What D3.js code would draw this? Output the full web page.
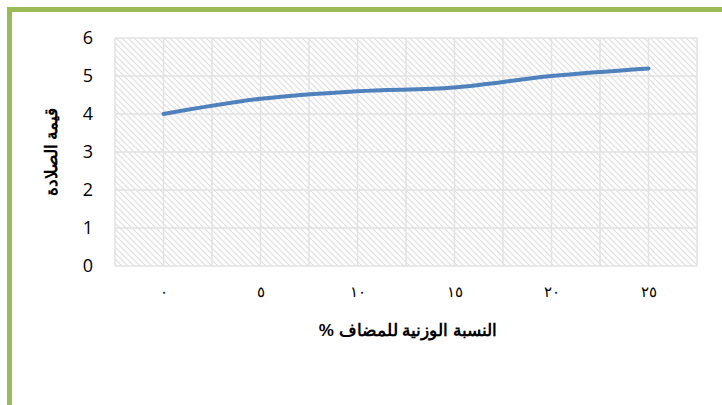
<!DOCTYPE html>
<html>
<head>
<meta charset="utf-8">
<script src="https://cdn.jsdelivr.net/npm/d3@7"></script>
<style>
	body { margin: 0; background: #fff; }
	svg { display: block; }
</style>
</head>
<body>
<svg id="chart" width="722" height="405"></svg>
<script>
const categories = ["٠", "٥", "١٠", "١٥", "٢٠", "٢٥"];
const hardness = [4.0, 4.4, 4.6, 4.7, 5.0, 5.2];
const yTicks = [0, 1, 2, 3, 4, 5, 6];
const xTitle = "النسبة الوزنية للمضاف %";
const yTitle = "قيمة الصلادة";

const svg = d3.select("#chart");
const plot = { left: 115, right: 697, top: 38, bottom: 266 };

// green frame (top and left only visible)
svg.append("rect").attr("x", 9.5).attr("y", 9.5).attr("width", 760).attr("height", 420)
	.attr("fill", "none").attr("stroke", "#9bbb59").attr("stroke-width", 5);

// hatch pattern for plot area
const defs = svg.append("defs");
const pat = defs.append("pattern").attr("id", "hatch").attr("patternUnits", "userSpaceOnUse")
	.attr("width", 6).attr("height", 6);
pat.append("path").attr("d", "M-1,-1 L7,7 M-1,5 L1,7 M5,-1 L7,1")
	.attr("stroke", "#dedede").attr("stroke-width", 1.2);

const x = d3.scaleBand().domain(categories).range([plot.left, plot.right]);
const y = d3.scaleLinear().domain([0, 6]).range([plot.bottom, plot.top]);

svg.append("rect").attr("x", plot.left).attr("y", plot.top)
	.attr("width", plot.right - plot.left).attr("height", plot.bottom - plot.top)
	.attr("fill", "url(#hatch)");

// gridlines
const grid = svg.append("g").attr("stroke", "#e2e2e2").attr("stroke-width", 1.5);
grid.selectAll("line.h").data(yTicks).enter().append("line")
	.attr("x1", plot.left).attr("x2", plot.right)
	.attr("y1", d => y(d)).attr("y2", d => y(d));
const vlines = d3.range(0, categories.length * 2 + 1).map(i => plot.left + i * x.bandwidth() / 2);
grid.selectAll("line.v").data(vlines).enter().append("line")
	.attr("x1", d => d).attr("x2", d => d)
	.attr("y1", plot.top).attr("y2", plot.bottom);

// y axis labels
const yAxis = svg.append("g").attr("transform", `translate(${plot.left - 22},0)`)
	.call(d3.axisLeft(y).tickValues(yTicks).tickSize(0).tickPadding(0).tickFormat(d3.format("d")));
yAxis.select(".domain").remove();
yAxis.selectAll("text").attr("font-family", "'Open Sans', sans-serif").attr("font-size", 18).attr("fill", "#000");

// x axis labels
const xAxis = svg.append("g").attr("transform", `translate(0,${plot.bottom + 20})`)
	.call(d3.axisBottom(x).tickSize(0).tickPadding(0));
xAxis.select(".domain").remove();
xAxis.selectAll("text").attr("font-family", "'Liberation Sans', Arial, sans-serif").attr("font-size", 15).attr("fill", "#000");

// line
const line = d3.line().curve(d3.curveMonotoneX)
	.x((d, i) => x(categories[i]) + x.bandwidth() / 2).y(d => y(d));
svg.append("path").datum(hardness).attr("d", line)
	.attr("fill", "none").attr("stroke", "#4f81bd").attr("stroke-width", 4).attr("stroke-linecap", "round");

// titles
svg.append("text").attr("x", (plot.left + plot.right) / 2 + 2).attr("y", 336)
	.attr("text-anchor", "middle").attr("font-family", "'Liberation Sans', Arial, sans-serif")
	.attr("font-size", 17).attr("font-weight", "bold").attr("direction", "rtl").text(xTitle);
svg.append("text").attr("transform", "translate(57,152) rotate(-90)")
	.attr("text-anchor", "middle").attr("font-family", "'Liberation Sans', Arial, sans-serif")
	.attr("font-size", 17).attr("font-weight", "bold").attr("direction", "rtl").text(yTitle);
</script>
</body>
</html>
